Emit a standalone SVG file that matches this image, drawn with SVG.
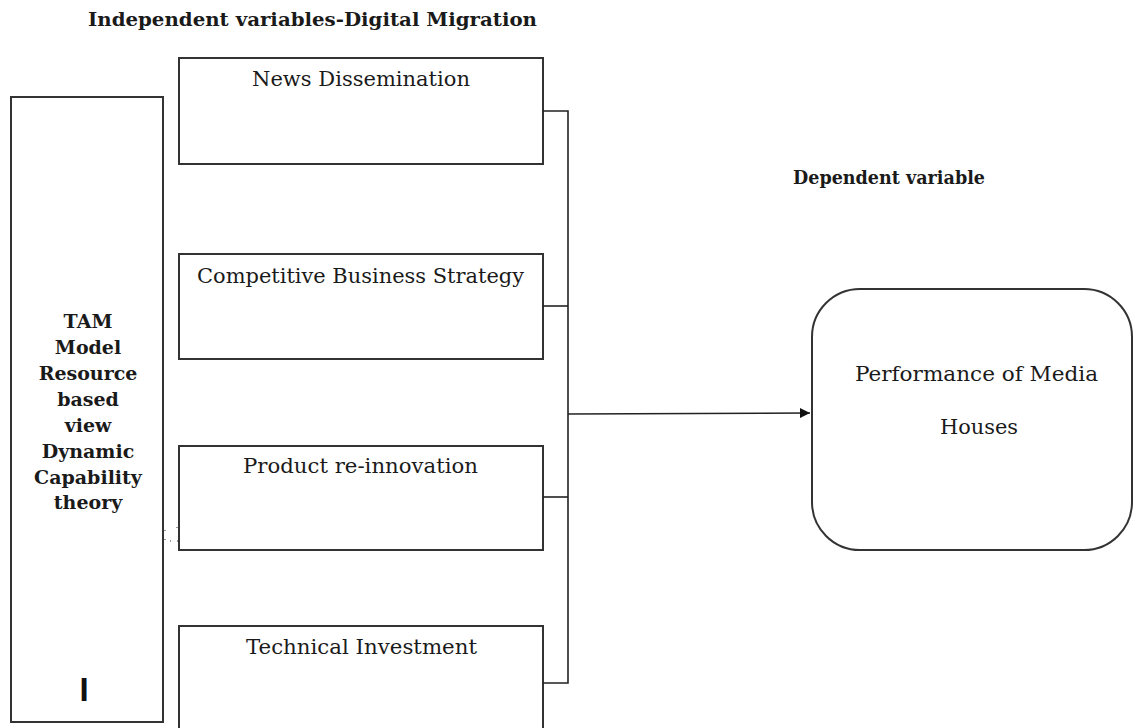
<svg xmlns="http://www.w3.org/2000/svg" width="1140" height="728" viewBox="0 0 1140 728">
<defs>
<style>
.box{fill:#fff;stroke:#333;stroke-width:2}
.t{font-family:"DejaVu Serif","Liberation Serif",serif;font-size:20px;fill:#1a1a1a}
.b{font-family:"DejaVu Serif","Liberation Serif",serif;font-size:19px;font-weight:bold;fill:#1a1a1a}
.ln{fill:none;stroke:#222;stroke-width:1.6}
</style>
<marker id="ah" viewBox="0 0 10 10" refX="10" refY="5" markerWidth="10" markerHeight="10" markerUnits="userSpaceOnUse" orient="auto">
<path d="M0,0 L10,5 L0,10 z" fill="#111"/>
</marker>
</defs>
<rect width="1140" height="728" fill="#fff"/>
<text class="b" x="88" y="26" textLength="449" lengthAdjust="spacingAndGlyphs">Independent variables-Digital Migration</text>
<text class="b" x="793" y="184" textLength="192" lengthAdjust="spacingAndGlyphs">Dependent variable</text>
<g id="theory">
<rect class="box" x="11" y="97" width="152" height="625"/>
<g class="b" text-anchor="middle">
<text x="88" y="328">TAM</text>
<text x="88" y="354">Model</text>
<text x="88" y="380">Resource</text>
<text x="88" y="406">based</text>
<text x="88" y="432">view</text>
<text x="88" y="458">Dynamic</text>
<text x="88" y="484">Capability</text>
<text x="88" y="509">theory</text>
</g>
<text x="84" y="701" font-family="Liberation Sans, Arial, sans-serif" font-size="33" font-weight="bold" fill="#111" text-anchor="middle">I</text>
<path d="M165,530 v1 M165,539 v1 M170,541 h1 M177,541 h1 M177,527 v1" stroke="#777" stroke-width="1.5"/>
</g>
<g id="news">
<rect class="box" x="179" y="58" width="364" height="106"/>
<text class="t" x="252" y="86" textLength="218" lengthAdjust="spacingAndGlyphs">News Dissemination</text>
</g>
<g id="competitive">
<rect class="box" x="179" y="254" width="364" height="105"/>
<text class="t" x="197" y="283" textLength="327" lengthAdjust="spacingAndGlyphs">Competitive Business Strategy</text>
</g>
<g id="product">
<rect class="box" x="179" y="446" width="364" height="104"/>
<text class="t" x="243" y="473" textLength="235" lengthAdjust="spacingAndGlyphs">Product re-innovation</text>
</g>
<g id="technical">
<rect class="box" x="179" y="626" width="364" height="110"/>
<text class="t" x="246" y="654" textLength="231" lengthAdjust="spacingAndGlyphs">Technical Investment</text>
</g>
<g id="performance">
<rect class="box" x="812" y="289" width="320" height="261" rx="48" ry="48"/>
<text class="t" x="855" y="381" textLength="243" lengthAdjust="spacingAndGlyphs">Performance of Media</text>
<text class="t" x="940" y="434" textLength="78" lengthAdjust="spacingAndGlyphs">Houses</text>
</g>
<g id="connectors">
<path class="ln" d="M543,111 H568 V683 H543"/>
<path class="ln" d="M543,306 H568"/>
<path class="ln" d="M543,497 H568"/>
<path class="ln" d="M568,414 L810,413" marker-end="url(#ah)"/>
</g>
</svg>
